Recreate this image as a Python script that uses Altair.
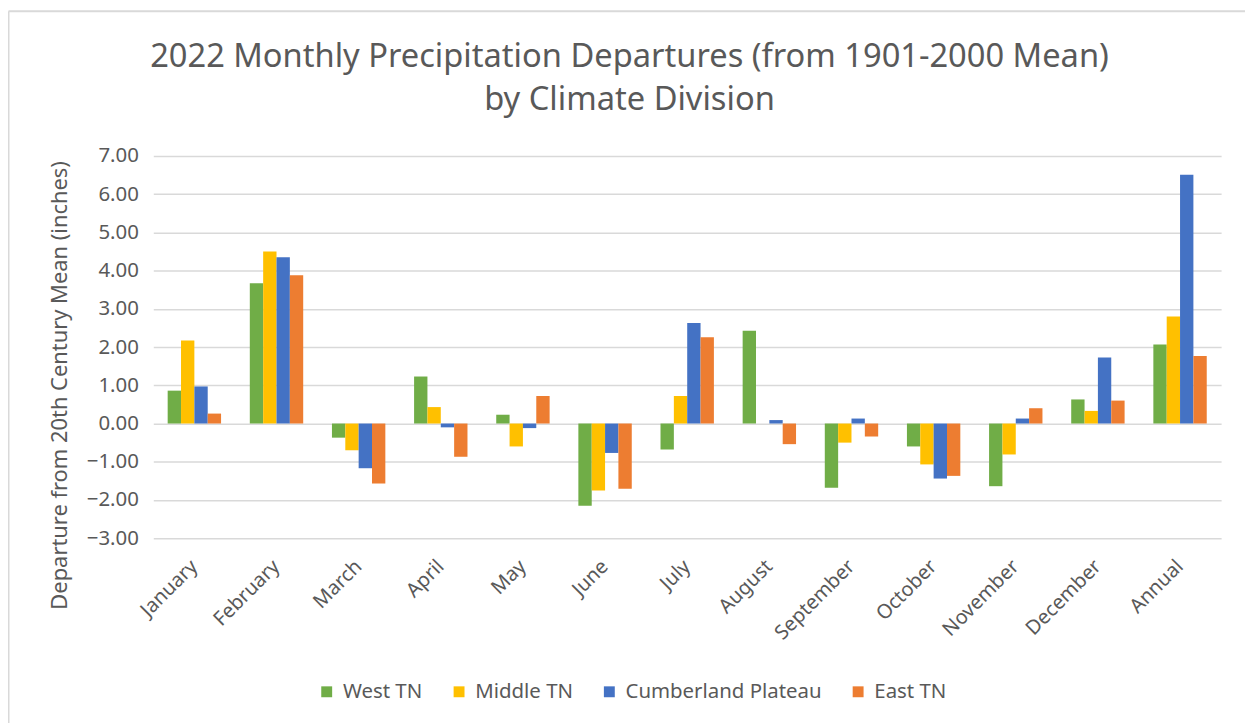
import altair as alt
import pandas as pd

months = ["January", "February", "March", "April", "May", "June", "July",
          "August", "September", "October", "November", "December", "Annual"]
divisions = ["West TN", "Middle TN", "Cumberland Plateau", "East TN"]
colors = ["#70AD47", "#FFC000", "#4472C4", "#ED7D31"]

west_tn = [0.86, 3.67, -0.37, 1.23, 0.23, -2.15, -0.68, 2.43, -1.68, -0.60, -1.64, 0.63, 2.07]
middle_tn = [2.17, 4.50, -0.70, 0.43, -0.60, -1.75, 0.72, 0.00, -0.50, -1.07, -0.81, 0.33, 2.80]
cumberland = [0.97, 4.35, -1.17, -0.10, -0.12, -0.77, 2.63, 0.09, 0.13, -1.44, 0.13, 1.73, 6.51]
east_tn = [0.26, 3.88, -1.57, -0.87, 0.72, -1.71, 2.26, -0.54, -0.34, -1.37, 0.40, 0.60, 1.77]

series = {"West TN": west_tn, "Middle TN": middle_tn,
          "Cumberland Plateau": cumberland, "East TN": east_tn}
rows = []
for div, vals in series.items():
    for m, v in zip(months, vals):
        rows.append({"month": m, "division": div, "value": v})
df = pd.DataFrame(rows)

FONT = "Noto Sans"
GREY = "#595959"
FRAME = "#d9d9d9"

bars = alt.Chart(df).mark_bar().encode(
    x=alt.X("month:N", sort=months, title=None,
            scale=alt.Scale(paddingInner=0.35, paddingOuter=0.175),
            axis=alt.Axis(labelAngle=-45, labelAlign="right", labelBaseline="middle",
                          labelFontSize=20, labelColor=GREY, labelFont=FONT,
                          ticks=False, domain=False, labelPadding=25)),
    xOffset=alt.XOffset("division:N", sort=divisions),
    y=alt.Y("value:Q", title="Departure from 20th Century Mean (inches)",
            scale=alt.Scale(domain=[-3, 7], nice=False, zero=False),
            axis=alt.Axis(values=list(range(-3, 8)), format=".2f",
                          labelFontSize=20.5, labelColor=GREY, labelFont=FONT,
                          titleFontSize=22, titleColor=GREY, titleFont=FONT,
                          titleFontWeight="normal", titlePadding=15, titleY=230,
                          ticks=False, domain=False, gridColor=FRAME,
                          gridWidth=1.5, labelPadding=15)),
    color=alt.Color("division:N", sort=divisions,
                    scale=alt.Scale(domain=divisions, range=colors),
                    legend=alt.Legend(title=None, orient="none", direction="horizontal",
                                      legendX=164, legendY=528,
                                      symbolType="square", symbolSize=120,
                                      symbolStrokeWidth=0, labelLimit=400,
                                      labelFontSize=20.5, labelColor=GREY, labelFont=FONT,
                                      columnPadding=26, labelOffset=6)),
)

# decorative chart-area frame (left and top edges, as in the reference)
frame_src = pd.DataFrame({"k": [0]})
frame_left = alt.Chart(frame_src).mark_rule(color=FRAME, strokeWidth=2).encode(
    x=alt.value(-145.5), y=alt.value(-145.5), y2=alt.value(650))
frame_top = alt.Chart(frame_src).mark_rule(color=FRAME, strokeWidth=2).encode(
    x=alt.value(-145.5), x2=alt.value(1200), y=alt.value(-145.5))

chart = alt.layer(bars, frame_left, frame_top).properties(
    width=1073, height=384,
    title=alt.TitleParams(
        text=["2022 Monthly Precipitation Departures (from 1901-2000 Mean)",
              "by Climate Division"],
        fontSize=32.8, font=FONT, color=GREY, fontWeight="normal",
        anchor="middle", lineHeight=43, offset=29, dx=-58, dy=136),
    autosize=alt.AutoSizeParams(type="none"),
    padding={"left": 146, "top": 147, "right": 24, "bottom": 184},
).configure_view(stroke=None)

chart.save("out.html", embed_options={"renderer": "svg", "actions": False})
